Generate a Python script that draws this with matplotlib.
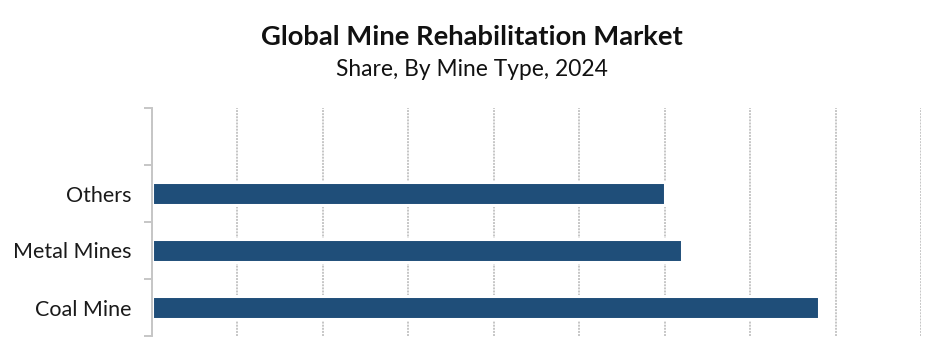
import matplotlib
matplotlib.use("Agg")
import matplotlib.pyplot as plt
import numpy as np

categories = ["Coal Mine", "Metal Mines", "Others"]
shares = [39.0, 31.0, 30.0]
title = "Global Mine Rehabilitation Market"
subtitle = "Share, By Mine Type, 2024"

plt.rcParams['font.family'] = ['Lato', 'DejaVu Sans']

W, H = 945, 359
fig = plt.figure(figsize=(W / 100, H / 100), dpi=100)
left, right = 152 / W, 921.5 / W
bottom, top = 1 - 336 / H, 1 - 108 / H
ax = fig.add_axes([left, bottom, right - left, top - bottom])

y = np.arange(len(categories))
ax.barh(y, shares, height=0.395, color="#1F4E79", edgecolor="white",
        linewidth=2.2, zorder=3)

grid_col = "#c6c6c6"
ax.set_xlim(0, 45)
ax.set_ylim(-0.5, 3.5)
ax.set_xticks(np.arange(0, 46, 5))
ax.xaxis.grid(True, color=grid_col, linestyle=(0, (1, 0.6)), linewidth=1.4, zorder=1)
ax.tick_params(axis="x", length=0, labelbottom=False)

ax.set_yticks(np.arange(-0.5, 3.6, 1.0))
ax.set_yticklabels([])
ax.tick_params(axis="y", which="major", length=6, color=grid_col, width=1.4)
ax.set_yticks(y, minor=True)
ax.set_yticklabels(categories, minor=True, fontsize=15.5, color="#1a1a1a")
ax.tick_params(axis="y", which="minor", length=0, pad=15)

for s in ["top", "right", "bottom"]:
    ax.spines[s].set_visible(False)
ax.spines["left"].set_color(grid_col)
ax.spines["left"].set_linewidth(1.4)
ax.spines["left"].set_linestyle((0, (1, 0.6)))
ax.spines["left"].set_zorder(4)

fig.text(472 / W, 1 - 37 / H, title, ha="center", va="center",
         fontsize=19.7, fontweight="bold", color="#111111")
fig.text(472 / W, 1 - 69 / H, subtitle, ha="center", va="center",
         fontsize=16.4, color="#111111")

fig.savefig("out.png", dpi=100, facecolor="white")
